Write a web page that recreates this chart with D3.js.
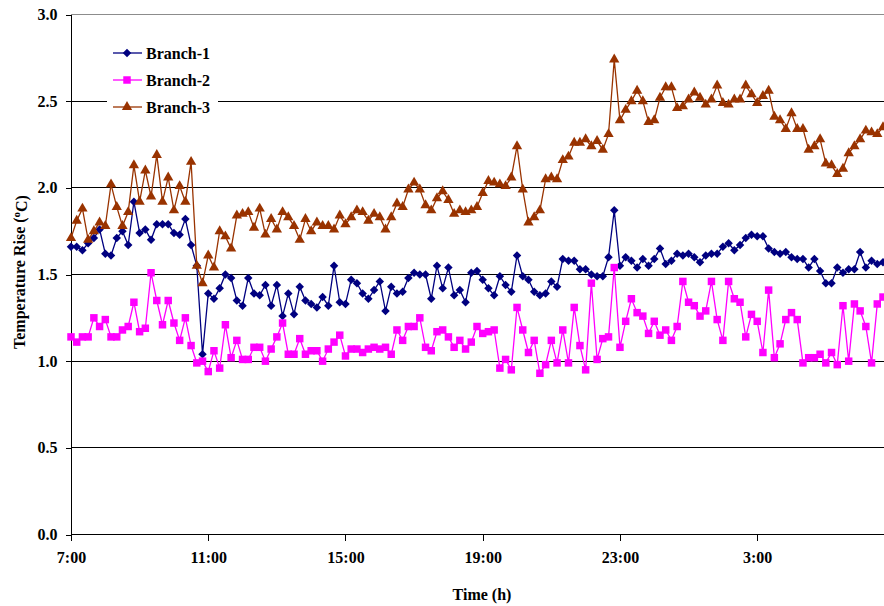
<!DOCTYPE html>
<html>
<head>
<meta charset="utf-8">
<script src="https://cdn.jsdelivr.net/npm/d3@7"></script>
<style>
    body { margin: 0; background: #fff; }
    svg text { font-family: 'Liberation Serif', 'Times New Roman', serif; font-weight: bold; }
</style>
</head>
<body>
<svg id="chart"></svg>
<script>
// Readings every 10 minutes starting at 7:00.
const stepMinutes = 10;
const startHour = 7;

const branch1 = [
    1.66, 1.66, 1.64, 1.68, 1.71, 1.76, 1.62, 1.61, 1.71, 1.75,
    1.67, 1.92, 1.74, 1.76, 1.70, 1.79, 1.79, 1.79, 1.74, 1.73,
    1.82, 1.67, 1.55, 1.04, 1.39, 1.36, 1.42, 1.50, 1.48, 1.35,
    1.32, 1.48, 1.39, 1.38, 1.44, 1.32, 1.44, 1.26, 1.39, 1.27,
    1.43, 1.35, 1.33, 1.31, 1.37, 1.32, 1.55, 1.34, 1.33, 1.47,
    1.45, 1.39, 1.36, 1.41, 1.46, 1.29, 1.43, 1.39, 1.40, 1.48,
    1.51, 1.50, 1.50, 1.36, 1.55, 1.42, 1.54, 1.38, 1.41, 1.34,
    1.51, 1.52, 1.47, 1.42, 1.38, 1.49, 1.44, 1.40, 1.61, 1.49,
    1.47, 1.40, 1.38, 1.39, 1.46, 1.43, 1.59, 1.58, 1.58, 1.53,
    1.53, 1.50, 1.49, 1.49, 1.60, 1.87, 1.55, 1.60, 1.58, 1.54,
    1.59, 1.55, 1.59, 1.65, 1.56, 1.58, 1.62, 1.61, 1.62, 1.60,
    1.57, 1.61, 1.62, 1.62, 1.66, 1.68, 1.64, 1.67, 1.71, 1.73,
    1.72, 1.72, 1.65, 1.63, 1.62, 1.63, 1.60, 1.59, 1.59, 1.54,
    1.59, 1.52, 1.45, 1.45, 1.54, 1.51, 1.53, 1.53, 1.63, 1.54,
    1.58, 1.56, 1.57,
];

const branch2 = [
    1.14, 1.11, 1.14, 1.14, 1.25, 1.20, 1.24, 1.14, 1.14, 1.18,
    1.20, 1.34, 1.17, 1.19, 1.51, 1.35, 1.21, 1.35, 1.22, 1.12,
    1.25, 1.09, 0.99, 1.00, 0.94, 1.06, 0.96, 1.21, 1.02, 1.12,
    1.01, 1.01, 1.08, 1.08, 1.00, 1.07, 1.14, 1.22, 1.04, 1.04,
    1.13, 1.04, 1.06, 1.06, 1.00, 1.07, 1.11, 1.15, 1.03, 1.07,
    1.07, 1.05, 1.07, 1.08, 1.07, 1.08, 1.04, 1.18, 1.12, 1.20,
    1.20, 1.25, 1.08, 1.06, 1.17, 1.18, 1.14, 1.08, 1.12, 1.07,
    1.11, 1.20, 1.16, 1.17, 1.18, 0.96, 1.01, 0.95, 1.31, 1.18,
    1.05, 1.12, 0.93, 0.98, 1.12, 0.99, 1.18, 0.99, 1.31, 1.09,
    0.95, 1.45, 1.01, 1.13, 1.14, 1.54, 1.08, 1.23, 1.36, 1.28,
    1.26, 1.16, 1.23, 1.15, 1.18, 1.12, 1.20, 1.46, 1.34, 1.32,
    1.26, 1.29, 1.46, 1.24, 1.12, 1.46, 1.36, 1.34, 1.14, 1.27,
    1.23, 1.05, 1.41, 1.02, 1.10, 1.24, 1.28, 1.24, 0.99, 1.02,
    1.02, 1.04, 0.99, 1.05, 0.98, 1.32, 1.00, 1.33, 1.29, 1.20,
    0.99, 1.33, 1.37,
];

const branch3 = [
    1.71, 1.81, 1.88, 1.70, 1.75, 1.80, 1.78, 2.02, 1.89, 1.78,
    1.86, 2.13, 1.92, 2.10, 1.95, 2.19, 1.92, 2.06, 1.87, 2.01,
    1.92, 2.15, 1.55, 1.45, 1.61, 1.54, 1.75, 1.72, 1.65, 1.84,
    1.85, 1.86, 1.77, 1.88, 1.73, 1.82, 1.76, 1.86, 1.83, 1.78,
    1.70, 1.82, 1.75, 1.80, 1.78, 1.78, 1.76, 1.84, 1.79, 1.83,
    1.87, 1.86, 1.81, 1.85, 1.83, 1.76, 1.83, 1.91, 1.89, 1.99,
    2.03, 1.99, 1.90, 1.87, 1.94, 1.98, 1.93, 1.85, 1.87, 1.86,
    1.87, 1.89, 1.97, 2.04, 2.03, 2.02, 2.01, 2.06, 2.24, 1.99,
    1.80, 1.83, 1.87, 2.05, 2.06, 2.05, 2.16, 2.18, 2.26, 2.26,
    2.28, 2.24, 2.27, 2.22, 2.31, 2.74, 2.39, 2.45, 2.50, 2.56,
    2.50, 2.38, 2.39, 2.52, 2.58, 2.58, 2.46, 2.47, 2.51, 2.55,
    2.52, 2.48, 2.51, 2.59, 2.49, 2.48, 2.51, 2.51, 2.59, 2.54,
    2.49, 2.53, 2.56, 2.41, 2.39, 2.34, 2.43, 2.34, 2.34, 2.22,
    2.24, 2.28, 2.14, 2.13, 2.08, 2.11, 2.20, 2.24, 2.28, 2.33,
    2.32, 2.31, 2.35,
];

const seriesNames = ['Branch-1', 'Branch-2', 'Branch-3'];
const seriesColors = ['#000080', '#ff00ff', '#993300'];
// Excel style markers: diamond is a square turned 45 degrees.
const seriesSymbols = [d3.symbolSquare, d3.symbolSquare, d3.symbolTriangle];
const markerSizes = [36, 56, 46];
const markerRotate = [45, 0, 0];

const xTickMinutes = [0, 240, 480, 720, 960, 1200];
const yTickValues = [0, 0.5, 1.0, 1.5, 2.0, 2.5, 3.0];

const width = 884;
const height = 606;
const plot = { left: 70.5, right: 883, top: 14.5, bottom: 534.5 };

const svg = d3.select('#chart').attr('width', width).attr('height', height);

const lastMinute = (branch1.length - 1) * stepMinutes;
const x = d3.scaleLinear().domain([0, lastMinute]).range([plot.left + 0.5, plot.right]);
const y = d3.scaleLinear().domain([0, 3]).range([plot.bottom, plot.top]);

// Horizontal gridlines.
svg.append('g')
    .selectAll('line')
    .data(yTickValues.filter(v => v > 0))
    .enter()
    .append('line')
    .attr('x1', plot.left)
    .attr('x2', width)
    .attr('y1', d => y(d))
    .attr('y2', d => y(d))
    .attr('stroke', d => (d === 3 ? '#8c8c8c' : '#000'))
    .attr('stroke-width', 1)
    .attr('shape-rendering', 'crispEdges');

// Axes.
const yAxis = svg.append('g')
    .attr('transform', `translate(${plot.left},0)`)
    .call(d3.axisLeft(y).tickValues(yTickValues).tickFormat(d3.format('.1f')).tickSize(5).tickPadding(8).tickSizeOuter(0));
yAxis.select('.domain').attr('stroke', '#000').attr('shape-rendering', 'crispEdges');
yAxis.selectAll('line').attr('shape-rendering', 'crispEdges');
yAxis.selectAll('text').attr('font-size', '16px').attr('font-family', null).attr('fill', '#000');

const xAxis = svg.append('g')
    .attr('transform', `translate(0,${plot.bottom})`)
    .call(
        d3.axisBottom(x)
            .tickValues(xTickMinutes)
            .tickFormat(m => `${(startHour + m / 60) % 24}:00`)
            .tickSize(6)
            .tickPadding(11)
            .tickSizeOuter(0)
    );
xAxis.select('.domain').attr('stroke', '#000').attr('d', `M${plot.left},0H${width}`).attr('shape-rendering', 'crispEdges');
xAxis.selectAll('line').attr('shape-rendering', 'crispEdges');
xAxis.selectAll('text').attr('font-size', '16px').attr('font-family', null).attr('fill', '#000');

// Axis titles.
svg.append('text')
    .attr('x', 482)
    .attr('y', 600)
    .attr('text-anchor', 'middle')
    .attr('font-size', '16px')
    .text('Time (h)');

const yTitle = svg.append('text')
    .attr('transform', 'translate(25,272) rotate(-90)')
    .attr('text-anchor', 'middle')
    .attr('font-size', '16px');
yTitle.append('tspan').text('Temperature Rise (');
yTitle.append('tspan').attr('dy', '-0.45em').attr('font-size', '11px').text('o');
yTitle.append('tspan').attr('dy', '0.45em').text('C)');

// Series lines and markers.
const allSeries = [branch1, branch2, branch3];
const line = d3.line().x((d, i) => x(i * stepMinutes)).y(d => y(d));

const plotG = svg.append('g');
allSeries.forEach((values, k) => {
    const g = plotG.append('g');
    g.append('path')
        .datum(values)
        .attr('d', line)
        .attr('fill', 'none')
        .attr('stroke', seriesColors[k])
        .attr('stroke-width', 1.3);
    g.selectAll('path.marker')
        .data(values)
        .enter()
        .append('path')
        .attr('class', 'marker')
        .attr('transform', (d, i) => `translate(${x(i * stepMinutes)},${y(d)}) rotate(${markerRotate[k]})`)
        .attr('d', d3.symbol().type(seriesSymbols[k]).size(markerSizes[k]))
        .attr('fill', seriesColors[k]);
});

// Legend.
const legend = svg.append('g');
legend.append('rect')
    .attr('x', 107)
    .attr('y', 40)
    .attr('width', 111)
    .attr('height', 80)
    .attr('fill', '#fff');
seriesNames.forEach((name, k) => {
    const ly = 53 + k * 27;
    legend.append('line')
        .attr('x1', 113)
        .attr('x2', 142)
        .attr('y1', ly)
        .attr('y2', ly)
        .attr('stroke', seriesColors[k])
        .attr('stroke-width', 1.3);
    legend.append('path')
        .attr('transform', `translate(127,${ly}) rotate(${markerRotate[k]})`)
        .attr('d', d3.symbol().type(seriesSymbols[k]).size(markerSizes[k]))
        .attr('fill', seriesColors[k]);
    legend.append('text')
        .attr('x', 146)
        .attr('y', ly)
        .attr('dy', '0.35em')
        .attr('font-size', '16px')
        .text(name);
});
</script>
</body>
</html>
